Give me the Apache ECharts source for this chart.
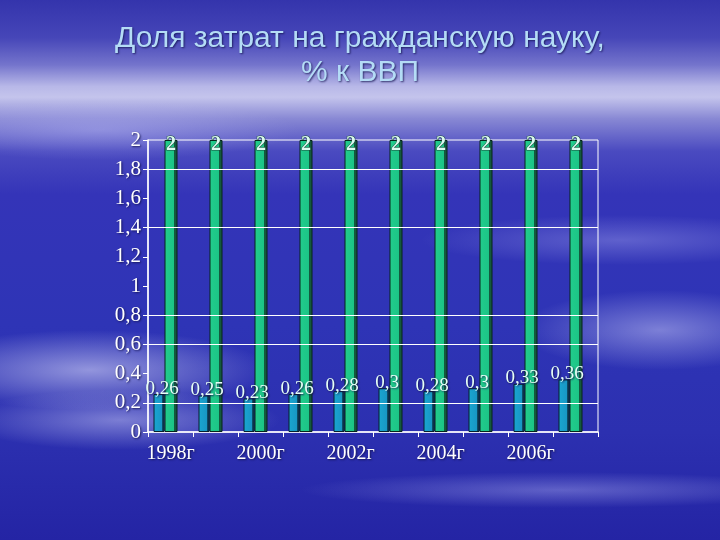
<!DOCTYPE html>
<html>
<head>
<meta charset="utf-8">
<script src="https://cdn.jsdelivr.net/npm/echarts@6/dist/echarts.min.js"></script>
<style>
html,body{margin:0;padding:0;}
body{width:720px;height:540px;overflow:hidden;
background:
 radial-gradient(ellipse 180px 40px at 90px 370px, rgba(230,230,255,0.55), rgba(230,230,255,0) 100%),
 radial-gradient(ellipse 160px 30px at 120px 420px, rgba(220,220,255,0.45), rgba(220,220,255,0) 100%),
 radial-gradient(ellipse 140px 40px at 660px 330px, rgba(220,220,255,0.45), rgba(220,220,255,0) 100%),
 radial-gradient(ellipse 200px 25px at 620px 240px, rgba(200,200,255,0.3), rgba(200,200,255,0) 100%),
 radial-gradient(ellipse 260px 18px at 560px 490px, rgba(200,200,255,0.35), rgba(200,200,255,0) 100%),
 radial-gradient(ellipse 200px 30px at 100px 130px, rgba(200,200,255,0.35), rgba(200,200,255,0) 100%),
 linear-gradient(to bottom, #3434ac 0%, #4646b8 7%, #7474cc 12%, #b8b8e8 16%, #c4c4ec 18%, #8888d4 22%, #4a4ac0 28%, #3434b8 36%, #2e34b6 60%, #2c30b0 80%, #2424a4 100%);}
#c{width:720px;height:540px;}
</style>
</head>
<body>
<div id="c"></div>
<script>
const categories = ['1998г','1999г','2000г','2001г','2002г','2003г','2004г','2005г','2006г','2007г'];
const civilScience = [0.26, 0.25, 0.23, 0.26, 0.28, 0.3, 0.28, 0.3, 0.33, 0.36];
const referenceLevel = [2, 2, 2, 2, 2, 2, 2, 2, 2, 2];
const visibleGridValues = [0.2, 0.6, 0.8, 1.4, 1.8];

const fmt = v => String(+Number(v).toFixed(2)).replace('.', ',');
const chart = echarts.init(document.getElementById('c'), null, {renderer:'canvas'});
const serif = '"Liberation Serif", "DejaVu Serif", serif';
const shadow = {textShadowColor: 'rgba(20,20,80,0.9)', textShadowBlur: 2, textShadowOffsetX: 1, textShadowOffsetY: 1};
chart.setOption({
  backgroundColor: 'transparent',
  animation: false,
  title: {
    text: 'Доля затрат на гражданскую науку,\n% к ВВП',
    left: 'center', top: 17,
    textStyle: Object.assign({
      fontFamily: '"Liberation Sans", Arial, sans-serif', fontSize: 30, fontWeight: 'normal',
      color: '#b4dcf6', lineHeight: 34}, {textShadowColor: 'rgba(20,20,80,0.8)', textShadowBlur: 2, textShadowOffsetX: 1, textShadowOffsetY: 1})
  },
  grid: {left: 148, right: 122, top: 140, bottom: 108, show: true, borderColor: '#ffffff', borderWidth: 1, backgroundColor: 'transparent'},
  xAxis: {
    type: 'category', data: categories,
    axisLine: {lineStyle: {color: '#ffffff', width: 1.5}},
    axisTick: {show: true, interval: 0, length: 5, lineStyle: {color: '#ffffff'}},
    axisLabel: Object.assign({interval: 1, color: '#ffffff', fontFamily: serif, fontSize: 20, margin: 12}, shadow),
    splitLine: {show: false}
  },
  yAxis: {
    type: 'value', min: 0, max: 2, interval: 0.2,
    axisLine: {show: true, lineStyle: {color: '#ffffff', width: 1.5}},
    axisTick: {show: true, length: 5, lineStyle: {color: '#ffffff'}},
    axisLabel: Object.assign({color: '#ffffff', fontFamily: serif, fontSize: 21, margin: 7, formatter: fmt}, shadow),
    splitLine: {show: false}
  },
  series: [
    {
      type: 'line', data: [], z: 1, silent: true,
      markLine: {
        silent: true, symbol: 'none', label: {show: false},
        lineStyle: {color: '#ffffff', width: 1.2, type: 'solid'},
        data: visibleGridValues.map(v => ({yAxis: v}))
      }
    },
    {
      name: 'Доля', type: 'bar', data: civilScience, barWidth: 11, barGap: '0%', z: 3,
      itemStyle: {
        color: new echarts.graphic.LinearGradient(0, 0, 1, 0, [
          {offset: 0, color: '#1aa6d0'}, {offset: 0.8, color: '#1896c4'},
          {offset: 0.8, color: '#0e4a66'}, {offset: 1, color: '#0e4a66'}]),
        borderColor: '#06202c', borderWidth: 1
      },
      label: Object.assign({show: true, position: 'top', distance: -4, offset: [3, 0], formatter: p => fmt(p.value),
        color: '#e6fff6', fontFamily: serif, fontSize: 19}, shadow)
    },
    {
      name: 'Уровень', type: 'bar', data: referenceLevel, barWidth: 13, barGap: '0%', z: 3,
      itemStyle: {
        color: new echarts.graphic.LinearGradient(0, 0, 1, 0, [
          {offset: 0, color: '#22cc8c'}, {offset: 0.72, color: '#1cc486'},
          {offset: 0.72, color: '#14583e'}, {offset: 1, color: '#14583e'}]),
        borderColor: '#06241a', borderWidth: 1
      },
      label: {show: true, position: 'top', distance: -15, formatter: p => fmt(p.value),
        color: '#dcfaf0', fontFamily: serif, fontSize: 20, fontWeight: 'bold',
        textBorderColor: '#1a4a3a', textBorderWidth: 1}
    },
    {
      name: 'depth', type: 'bar', data: [], barWidth: 10, barGap: '0%', silent: true,
      itemStyle: {color: 'transparent'}
    }
  ]
});
</script>
</body>
</html>
